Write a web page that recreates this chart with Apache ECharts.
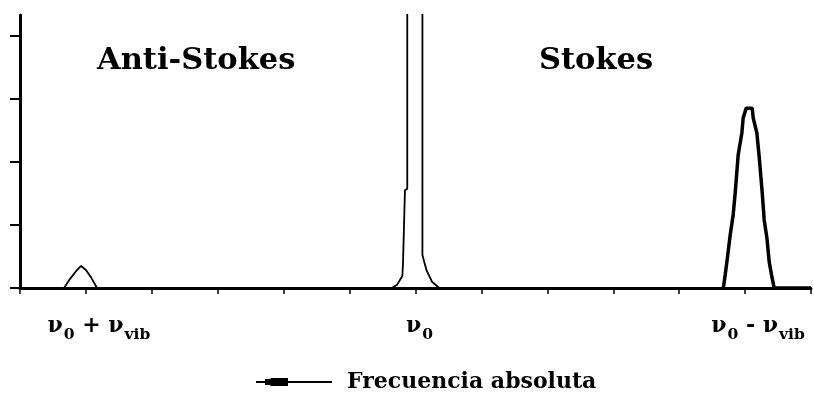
<!DOCTYPE html>
<html>
<head>
<meta charset="utf-8">
<script src="https://cdn.jsdelivr.net/npm/echarts@6/dist/echarts.min.js"></script>
<style>
html,body{margin:0;padding:0;background:#fff;}
#c{width:814px;height:396px;}
</style>
</head>
<body>
<div id="c"></div>
<script>
// ---- data ----
const seriesName = 'Frecuencia absoluta';
const yTicks = [0, 20, 40, 60, 80];
const xLabelPositions = [1, 6, 11];
const xLabelTexts = ['{p| }{v|ν}{s|0}{v| + ν}{s|vib}', '{q| }{v|ν}{s|0}', '{p| }{v|ν}{s|0}{v| - ν}{s|vib}'];
const regionLabels = ['Anti-Stokes', 'Stokes'];

// anti-Stokes peak + baseline + central Rayleigh peak (x in tick units, y in intensity units)
const mainX = [0, 0.668, 0.76, 0.84, 0.926, 1.0, 1.08, 1.168, 5.64, 5.72, 5.80, 5.81, 5.84, 5.84, 5.875, 5.875, 6.105, 6.105, 6.13, 6.13, 6.17, 6.25, 6.36, 8.0, 10.67];
const mainY = [0, 0, 2.9, 5.1, 7.0, 5.7, 3.3, 0, 0, 1.0, 3.8, 7.6, 8.0, 31.0, 31.5, 200, 200, 10.5, 10.0, 8.5, 5.5, 2.0, 0, 0, 0];

// Stokes peak
const stokesX = [10.67, 10.698, 10.724, 10.774, 10.819, 10.85, 10.895, 10.951, 10.971, 11.017, 11.108, 11.123, 11.179, 11.214, 11.259, 11.29, 11.331, 11.366, 11.407, 11.442, 12];
const stokesY = [0, 4.1, 8.3, 16.8, 23.2, 30.2, 42.2, 49.2, 54.0, 57.1, 57.1, 54.0, 49.2, 41.6, 30.5, 21.6, 15.9, 8.3, 3.5, 0, 0];

const serif = '"DejaVu Serif", serif';
const chart = echarts.init(document.getElementById('c'), null, {renderer: 'canvas'});
const option = {
  animation: false,
  backgroundColor: '#ffffff',
  grid: {left: 20, right: 3, top: 15, bottom: 108, containLabel: false},
  xAxis: {
    type: 'value', min: 0, max: 12, interval: 1,
    axisLine: {lineStyle: {color: '#000', width: 3}},
    axisTick: {show: true, inside: false, length: 6, lineStyle: {color: '#000', width: 1.5}},
    splitLine: {show: false},
    axisLabel: {
      customValues: xLabelPositions,
      margin: 25,
      formatter: function (v) {
        const i = xLabelPositions.indexOf(Math.round(v));
        return i >= 0 ? xLabelTexts[i] : '';
      },
      rich: {
        p: {width: 26, fontSize: 10},
        q: {width: 8, fontSize: 10},
        v: {fontFamily: serif, fontWeight: 'bold', fontSize: 22, color: '#000', verticalAlign: 'bottom', lineHeight: 24},
        s: {fontFamily: serif, fontWeight: 'bold', fontSize: 15.5, color: '#000', verticalAlign: 'bottom', lineHeight: 18, padding: [0, 0, -6, 1]}
      }
    }
  },
  yAxis: {
    type: 'value', min: 0, max: 86.67,
    axisLine: {show: true, lineStyle: {color: '#000', width: 3}},
    axisTick: {show: true, inside: false, length: 10, customValues: yTicks, lineStyle: {color: '#000', width: 2}},
    axisLabel: {show: false},
    splitLine: {show: false}
  },
  legend: {
    show: true,
    left: 251, top: 366,
    itemWidth: 76, itemHeight: 8,
    icon: 'path://M0,3 L76,3 L76,5 L0,5 Z M9,1 L14,1 L15,0 L32,0 L32,8 L15,8 L14,7 L9,7 Z',
    itemStyle: {color: '#000'},
    textStyle: {fontFamily: serif, fontWeight: 'bold', fontSize: 22, color: '#000', padding: [0, 0, 0, 10]},
    data: [seriesName]
  },
  series: [
    {
      name: seriesName, type: 'line', clip: true, showSymbol: false, symbol: 'none',
      lineStyle: {color: '#000', width: 1.8}, itemStyle: {color: '#000'},
      data: mainX.map((x, i) => [x, mainY[i]])
    },
    {
      name: seriesName, type: 'line', clip: true, showSymbol: false, symbol: 'none',
      lineStyle: {color: '#000', width: 3.5}, itemStyle: {color: '#000'},
      data: stokesX.map((x, i) => [x, stokesY[i]])
    }
  ],
  graphic: [
    {type: 'text', left: 97, top: 46, style: {text: regionLabels[0], fontFamily: serif, fontWeight: 'bold', fontSize: 30.5, fill: '#000'}},
    {type: 'text', left: 539, top: 46, style: {text: regionLabels[1], fontFamily: serif, fontWeight: 'bold', fontSize: 30.5, fill: '#000'}}
  ]
};
chart.setOption(option);
</script>
</body>
</html>
